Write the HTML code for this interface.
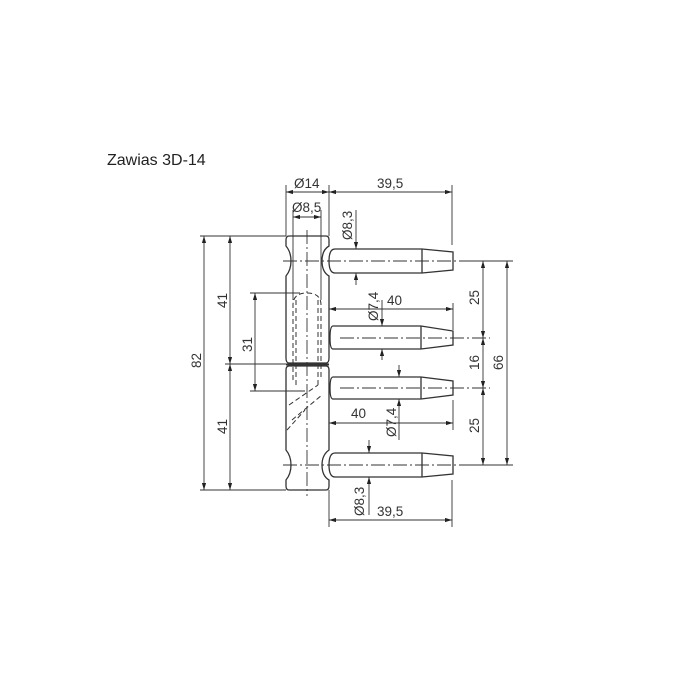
<!DOCTYPE html><html><head><style>body{margin:0;background:#fff}svg{display:block}text{font-family:"Liberation Sans",sans-serif;font-size:13.5px;fill:#333}</style></head><body>
<svg width="700" height="700" viewBox="0 0 700 700">
<defs><marker id="a" viewBox="0 0 10 6" refX="10" refY="3" markerWidth="8" markerHeight="5" orient="auto-start-reverse"><path d="M0,0L10,3L0,6z" fill="#222"/></marker></defs>
<text x="107" y="165" style="font-size:16px;fill:#222">Zawias 3D-14</text>
<g stroke="#333" stroke-width="1.3" fill="none">
<path d="M289,236 H326 Q329,236 329,240 V246 Q322,250 322,261 Q322,272 329,276 V358 Q329,363 326,363 H289 Q286,363 286,358 V276 Q291,270 291,261 Q291,252 286,246 V240 Q286,236 289,236Z"/>
<path d="M289,366 H326 Q329,366 329,370 V450 Q322,455 322,465 Q322,476 329,480 V486 Q329,490 326,490 H289 Q286,490 286,486 V480 Q291,474 291,465 Q291,456 286,450 V370 Q286,366 289,366Z"/>
<line x1="286" y1="364.5" x2="329" y2="364.5" stroke-width="2"/>
<path d="M335,249 H422 L453,252 V270 L422,273 H335 Q329,273 329,261 Q329,249 335,249Z"/>
<line x1="422" y1="249" x2="422" y2="273"/>
<path d="M333,326 H421 L453,331 V345 L421,349 H333 Q330,349 330,338 Q330,326 333,326Z"/>
<line x1="421" y1="326" x2="421" y2="349"/>
<path d="M333,377 H421 L453,381 V395 L421,399 H333 Q330,399 330,388 Q330,377 333,377Z"/>
<line x1="421" y1="377" x2="421" y2="399"/>
<path d="M335,453 H422 L453,456 V474 L422,477 H335 Q329,477 329,465 Q329,453 335,453Z"/>
<line x1="422" y1="453" x2="422" y2="477"/>
<g stroke-dasharray="5,3" stroke-width="1">
<path d="M293,380 V305 Q293,293 307,293 Q321,293 321,305 V380"/>
<line x1="296" y1="300" x2="296" y2="385"/><line x1="318" y1="300" x2="318" y2="385"/>
<path d="M289,405 L318,385 M292,420 L322,395 M287,430 L305,410"/>
</g>
<g stroke-dasharray="14,3,2,3" stroke-width="0.9">
<line x1="307" y1="230" x2="307" y2="496"/>
<line x1="283" y1="261" x2="465" y2="261"/><line x1="340" y1="338" x2="490" y2="338"/>
<line x1="340" y1="388" x2="490" y2="388"/><line x1="283" y1="465" x2="465" y2="465"/>
</g>
<g stroke-width="0.9">
<line x1="286" y1="185" x2="286" y2="236"/><line x1="329" y1="185" x2="329" y2="236"/>
<line x1="293" y1="210" x2="293" y2="300"/><line x1="321" y1="210" x2="321" y2="300"/>
<line x1="452" y1="185" x2="452" y2="245"/><line x1="453" y1="303" x2="453" y2="330"/>
<line x1="453" y1="400" x2="453" y2="430"/><line x1="452" y1="480" x2="452" y2="527"/>
<line x1="329" y1="490" x2="329" y2="527"/>
<line x1="200" y1="236" x2="286" y2="236"/><line x1="200" y1="490" x2="286" y2="490"/>
<line x1="225" y1="364" x2="286" y2="364"/><line x1="250" y1="293" x2="300" y2="293"/>
<line x1="250" y1="391" x2="305" y2="391"/>
<line x1="465" y1="261" x2="513" y2="261"/><line x1="465" y1="465" x2="513" y2="465"/>
</g>
<g stroke-width="0.9" marker-start="url(#a)" marker-end="url(#a)">
<line x1="286" y1="192" x2="329" y2="192"/><line x1="329" y1="192" x2="452" y2="192"/>
<line x1="293" y1="217" x2="321" y2="217"/>
<line x1="329" y1="309" x2="453" y2="309"/><line x1="329" y1="423" x2="453" y2="423"/>
<line x1="329" y1="520" x2="452" y2="520"/>
<line x1="204" y1="236" x2="204" y2="490"/><line x1="230" y1="236" x2="230" y2="364"/>
<line x1="230" y1="364" x2="230" y2="490"/><line x1="255" y1="293" x2="255" y2="391"/>
<line x1="483" y1="261" x2="483" y2="338"/><line x1="483" y1="338" x2="483" y2="388"/>
<line x1="483" y1="388" x2="483" y2="465"/><line x1="507" y1="261" x2="507" y2="465"/>
</g>
<g stroke-width="0.9">
<line x1="356" y1="210" x2="356" y2="249" marker-end="url(#a)"/><line x1="356" y1="285" x2="356" y2="273" marker-end="url(#a)"/>
<line x1="382" y1="300" x2="382" y2="326" marker-end="url(#a)"/><line x1="382" y1="360" x2="382" y2="349" marker-end="url(#a)"/>
<line x1="399" y1="365" x2="399" y2="377" marker-end="url(#a)"/><line x1="399" y1="440" x2="399" y2="399" marker-end="url(#a)"/>
<line x1="369" y1="440" x2="369" y2="453" marker-end="url(#a)"/><line x1="369" y1="515" x2="369" y2="477" marker-end="url(#a)"/>
</g>
</g>
<text x="294" y="188">Ø14</text><text x="377" y="188">39,5</text>
<text x="292" y="212">Ø8,5</text>
<text x="387" y="305">40</text><text x="351" y="418">40</text><text x="377" y="516">39,5</text>
<text transform="translate(352,240) rotate(-90)">Ø8,3</text>
<text transform="translate(378,321) rotate(-90)">Ø7,4</text>
<text transform="translate(396,437) rotate(-90)">Ø7,4</text>
<text transform="translate(364,516) rotate(-90)">Ø8,3</text>
<text transform="translate(201,368) rotate(-90)">82</text>
<text transform="translate(227,308) rotate(-90)">41</text>
<text transform="translate(227,434) rotate(-90)">41</text>
<text transform="translate(252,352) rotate(-90)">31</text>
<text transform="translate(479,305) rotate(-90)">25</text>
<text transform="translate(479,370) rotate(-90)">16</text>
<text transform="translate(479,433) rotate(-90)">25</text>
<text transform="translate(503,370) rotate(-90)">66</text>
</svg></body></html>
